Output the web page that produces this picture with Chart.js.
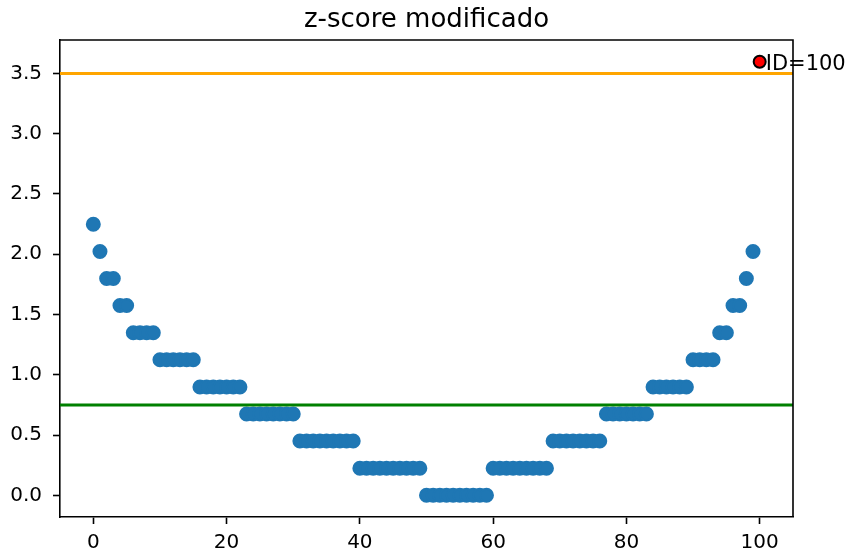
<!DOCTYPE html>
<html>
<head>
<meta charset="utf-8">
<script src="https://cdn.jsdelivr.net/npm/chart.js@4/dist/chart.umd.min.js"></script>
<style>
  html, body { margin: 0; padding: 0; background: #fff; }
  #wrap { width: 852px; height: 556px; }
</style>
</head>
<body>
<div id="wrap"><canvas id="c" width="852" height="556"></canvas></div>
<script>
// Modified z-score per record; the array index is the record id (0..99)
const scores = [
  2.248, 2.023, 1.798, 1.798, 1.574, 1.574,
  1.349, 1.349, 1.349, 1.349,
  1.124, 1.124, 1.124, 1.124, 1.124, 1.124,
  0.899, 0.899, 0.899, 0.899, 0.899, 0.899, 0.899,
  0.674, 0.674, 0.674, 0.674, 0.674, 0.674, 0.674, 0.674,
  0.450, 0.450, 0.450, 0.450, 0.450, 0.450, 0.450, 0.450, 0.450,
  0.225, 0.225, 0.225, 0.225, 0.225, 0.225, 0.225, 0.225, 0.225, 0.225,
  0, 0, 0, 0, 0, 0, 0, 0, 0, 0,
  0.225, 0.225, 0.225, 0.225, 0.225, 0.225, 0.225, 0.225, 0.225,
  0.450, 0.450, 0.450, 0.450, 0.450, 0.450, 0.450, 0.450,
  0.674, 0.674, 0.674, 0.674, 0.674, 0.674, 0.674,
  0.899, 0.899, 0.899, 0.899, 0.899, 0.899,
  1.124, 1.124, 1.124, 1.124,
  1.349, 1.349,
  1.574, 1.574,
  1.798,
  2.023
];

// Flagged outlier
const outlierId = 100;
const outlierScore = 3.597;
const outlierLabel = 'ID=100';

// Threshold lines
const upperThreshold = 3.5;
const lowerThreshold = 0.75;

// Axis limits and ticks
const xMin = -5, xMax = 105;
const yMin = -0.18, yMax = 3.777;
const xTicks = [0, 20, 40, 60, 80, 100];
const yTicks = [0.0, 0.5, 1.0, 1.5, 2.0, 2.5, 3.0, 3.5];

const title = 'z-score modificado';

const FONT = "'DejaVu Sans', sans-serif";

const framePlugin = {
  id: 'frame',
  afterDraw(chart) {
    const { ctx, chartArea: a } = chart;
    ctx.save();
    // top and right spines
    ctx.strokeStyle = '#000';
    ctx.lineWidth = 1.6;
    ctx.beginPath();
    ctx.moveTo(a.left, a.top);
    ctx.lineTo(a.right, a.top);
    ctx.lineTo(a.right, a.bottom);
    ctx.stroke();
    // title
    ctx.fillStyle = '#000';
    ctx.font = '26px ' + FONT;
    ctx.textAlign = 'center';
    ctx.textBaseline = 'alphabetic';
    ctx.fillText(title, (a.left + a.right) / 2, a.top - 13);
    // outlier annotation
    const xs = chart.scales.x, ys = chart.scales.y;
    ctx.font = '21px ' + FONT;
    ctx.textAlign = 'left';
    ctx.fillText(outlierLabel, xs.getPixelForValue(outlierId) + 6, ys.getPixelForValue(outlierScore) + 8);
    ctx.restore();
  }
};

const scaleCommon = {
  grid: { drawOnChartArea: false, drawTicks: true, tickLength: 7, tickWidth: 1.6, tickColor: '#000' },
  border: { display: true, color: '#000', width: 1.6 },
};

new Chart(document.getElementById('c'), {
  type: 'scatter',
  data: {
    datasets: [
      {
        label: 'outlier',
        data: [{ x: outlierId, y: outlierScore }],
        backgroundColor: '#ff0000',
        borderColor: '#000000',
        borderWidth: 2,
        pointRadius: 6,
        order: 0
      },
      {
        type: 'line',
        label: 'upper',
        data: [{ x: xMin, y: upperThreshold }, { x: xMax, y: upperThreshold }],
        borderColor: '#ffa500',
        borderWidth: 3,
        pointRadius: 0,
        order: 1
      },
      {
        type: 'line',
        label: 'lower',
        data: [{ x: xMin, y: lowerThreshold }, { x: xMax, y: lowerThreshold }],
        borderColor: '#008000',
        borderWidth: 3,
        pointRadius: 0,
        order: 1
      },
      {
        label: 'z',
        data: scores.map((v, i) => ({ x: i, y: v })),
        backgroundColor: '#1f77b4',
        borderColor: '#1f77b4',
        borderWidth: 2,
        pointRadius: 6.5,
        order: 2
      }
    ]
  },
  options: {
    responsive: false,
    animation: false,
    events: [],
    layout: { padding: { top: 40, right: 59, left: 0, bottom: 0 } },
    plugins: { legend: { display: false }, title: { display: false }, tooltip: { enabled: false } },
    scales: {
      x: {
        type: 'linear',
        min: xMin, max: xMax,
        ...scaleCommon,
        afterBuildTicks(s) { s.ticks = xTicks.map(v => ({ value: v })); },
        afterFit(s) { s.height = 39; },
        ticks: { color: '#000', padding: 7, maxRotation: 0, font: { family: FONT, size: 20 }, callback: v => String(v) }
      },
      y: {
        type: 'linear',
        min: yMin, max: yMax,
        ...scaleCommon,
        afterBuildTicks(s) { s.ticks = yTicks.map(v => ({ value: v })); },
        afterFit(s) { s.width = 60; },
        ticks: { color: '#000', padding: 11, font: { family: FONT, size: 20 }, callback: v => Number(v).toFixed(1) }
      }
    }
  },
  plugins: [framePlugin]
});
</script>
</body>
</html>
